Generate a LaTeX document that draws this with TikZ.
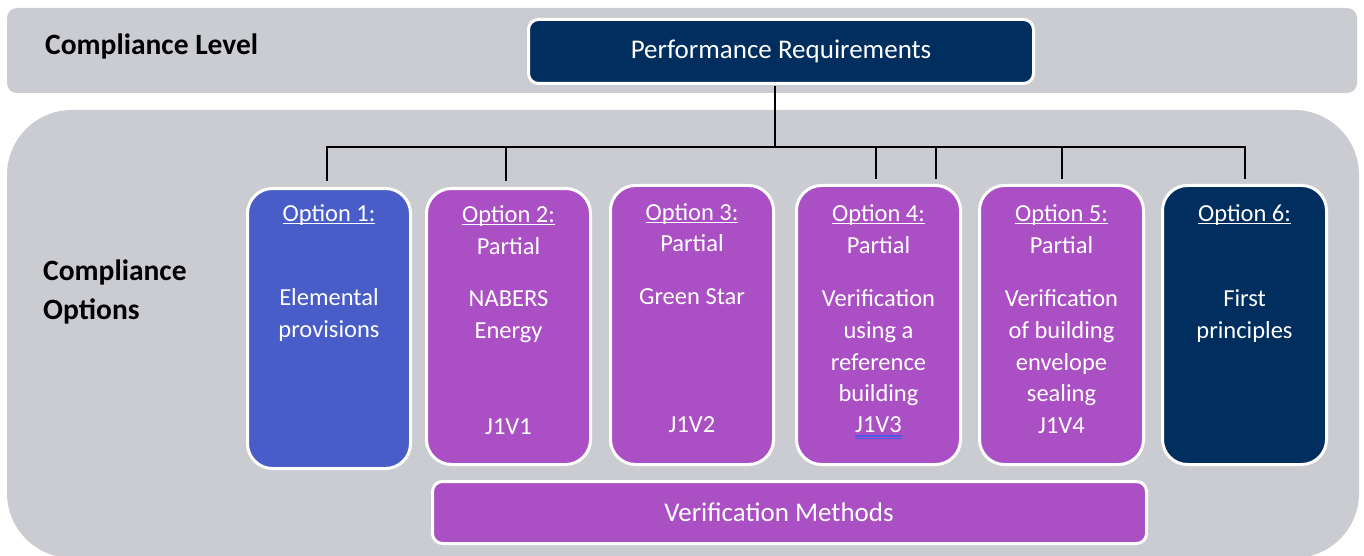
\documentclass[tikz,border=0pt]{standalone}
\usepackage{fontspec}
\setmainfont{Carlito}
\definecolor{panelgrey}{HTML}{CBCCD1}
\definecolor{navy}{HTML}{002E5E}
\definecolor{optpurple}{HTML}{AB4FC4}
\definecolor{optblue}{HTML}{485DC8}
\definecolor{spellblue}{HTML}{4A5CE6}
\newcommand{\optul}[1]{\setbox0\hbox{#1}\rlap{\rule[-2.8pt]{\wd0}{1.2pt}}\box0}
\tikzset{
  panel/.style={fill=panelgrey, draw=none},
  optbox/.style={draw=white, line width=3pt, rounded corners=25pt, inner sep=0pt},
  widebox/.style={draw=white, line width=3pt, rounded corners=10pt, inner sep=0pt},
  txt/.style={text=white, inner sep=0pt, font=\fontsize{24.5}{29}\selectfont},
  bigtxt/.style={text=white, inner sep=0pt, font=\fontsize{27}{32}\selectfont},
  lbl/.style={text=black, inner sep=0pt, font=\fontsize{29.5}{34}\selectfont\bfseries},
  conn/.style={draw=black, line width=2pt},
  spell/.style={draw=spellblue, line width=1.2pt}
}
\begin{document}
\begin{tikzpicture}[x=1pt, y=-1pt]
\useasboundingbox (0,0) rectangle (1364,556);
\fill[white] (0,0) rectangle (1364,556);
% panels
\path[panel, rounded corners=10pt] (7,8) rectangle (1357,93);
\path[panel, rounded corners=65pt] (7,110) rectangle (1359,558);
% labels
\node[lbl, anchor=base west] (cl) at (45,55) {Compliance Level};
\node[lbl, anchor=base west] (co1) at (43,280) {Compliance};
\node[lbl, anchor=base west] (co2) at (43,319) {Options};
% performance requirements
\node[widebox, fill=navy, minimum width=505pt, minimum height=64pt] (pr) at (781,51.5) {};
\node[bigtxt, anchor=base] (prt) at (781,59) {Performance Requirements};
% option boxes
\node[optbox, fill=optblue, minimum width=163pt, minimum height=280pt] (o1) at (329,328.5) {};
\node[optbox, fill=optpurple, minimum width=164pt, minimum height=276pt] (o2) at (508.5,326.5) {};
\node[optbox, fill=optpurple, minimum width=163pt, minimum height=279pt] (o3) at (692,325) {};
\node[optbox, fill=optpurple, minimum width=164pt, minimum height=279pt] (o4) at (878.5,325) {};
\node[optbox, fill=optpurple, minimum width=164pt, minimum height=279pt] (o5) at (1061.5,325) {};
\node[optbox, fill=navy, minimum width=164pt, minimum height=279pt] (o6) at (1244.5,325) {};
\node[widebox, fill=optpurple, minimum width=714pt, minimum height=62pt] (vm) at (789.5,512.5) {};
\node[bigtxt, anchor=base] (vmt) at (779,521) {Verification Methods};
% connectors
\coordinate (j) at (775,147);
\draw[conn] ([yshift=-1pt]pr.south -| j) -- (j);
\draw[conn] ([xshift=-2pt, yshift=6pt]o1.north) -- ([xshift=-2pt]o1.north |- j) -- (o6.north |- j) -- ([yshift=5pt]o6.north);
\draw[conn] ([xshift=-2.5pt, yshift=6pt]o2.north) -- ([xshift=-2.5pt]o2.north |- j);
\draw[conn] ([xshift=-2.5pt, yshift=5pt]o4.north) -- ([xshift=-2.5pt]o4.north |- j);
\draw[conn] ([xshift=57.5pt, yshift=5pt]o4.north) -- ([xshift=57.5pt]o4.north |- j);
\draw[conn] ([yshift=5pt]o5.north) -- (o5.north |- j);
% option 1
\node[txt, anchor=base] (t1a) at (329,221) {\optul{Option 1:}};
\node[txt, anchor=base] (t1b) at (329,305) {Elemental};
\node[txt, anchor=base] (t1c) at (329,337) {provisions};
% option 2
\node[txt, anchor=base] (t2a) at (508.5,222) {\optul{Option 2:}};
\node[txt, anchor=base] (t2b) at (508.5,254) {Partial};
\node[txt, anchor=base] (t2c) at (508.5,306) {NABERS};
\node[txt, anchor=base] (t2d) at (508.5,338) {Energy};
\node[txt, anchor=base] (t2e) at (508.5,434) {J1V1};
% option 3
\node[txt, anchor=base] (t3a) at (692,220) {\optul{Option 3:}};
\node[txt, anchor=base] (t3b) at (692,251) {Partial};
\node[txt, anchor=base] (t3c) at (692,304) {Green Star};
\node[txt, anchor=base] (t3e) at (692,432) {J1V2};
% option 4
\node[txt, anchor=base] (t4a) at (878.5,221) {\optul{Option 4:}};
\node[txt, anchor=base] (t4b) at (878.5,253) {Partial};
\node[txt, anchor=base] (t4c) at (878.5,306) {Verification};
\node[txt, anchor=base] (t4d) at (878.5,338) {using a};
\node[txt, anchor=base] (t4e) at (878.5,370) {reference};
\node[txt, anchor=base] (t4f) at (878.5,401) {building};
\node[txt, anchor=base] (t4g) at (878.5,432) {J1V3};
\draw[spell] ([yshift=-4pt]t4g.base west) -- ([yshift=-4pt]t4g.base east);
\draw[spell] ([yshift=-6.2pt]t4g.base west) -- ([yshift=-6.2pt]t4g.base east);
% option 5
\node[txt, anchor=base] (t5a) at (1061.5,221) {\optul{Option 5:}};
\node[txt, anchor=base] (t5b) at (1061.5,253) {Partial};
\node[txt, anchor=base] (t5c) at (1061.5,306) {Verification};
\node[txt, anchor=base] (t5d) at (1061.5,338) {of building};
\node[txt, anchor=base] (t5e) at (1061.5,370) {envelope};
\node[txt, anchor=base] (t5f) at (1061.5,401) {sealing};
\node[txt, anchor=base] (t5g) at (1061.5,433) {J1V4};
% option 6
\node[txt, anchor=base] (t6a) at (1244.5,221) {\optul{Option 6:}};
\node[txt, anchor=base] (t6b) at (1244.5,306) {First};
\node[txt, anchor=base] (t6c) at (1244.5,338) {principles};
\end{tikzpicture}
\end{document}
